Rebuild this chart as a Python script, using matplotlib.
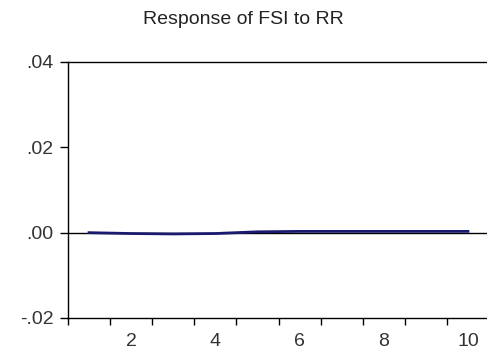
import matplotlib
matplotlib.use("Agg")
import matplotlib.pyplot as plt
from matplotlib.ticker import FixedLocator, FuncFormatter

# -------------------------- data -------------------------------------------
periods = [1, 2, 3, 4, 5, 6, 7, 8, 9, 10]
response = [0.0, -0.0002, -0.0003, -0.0002, 0.0002, 0.0003, 0.0003, 0.0003, 0.0003, 0.0003]
y_ticks = [-0.02, 0.0, 0.02, 0.04]
x_labels = [2, 4, 6, 8, 10]

# -------------------------- plot -------------------------------------------
plt.rcParams['font.family'] = ['Liberation Sans', 'DejaVu Sans']

fig = plt.figure(figsize=(4.87, 3.53), dpi=100)
ax = fig.add_axes([68 / 487, 35 / 353, 421 / 487, 256 / 353])

ax.axhline(0, color='black', lw=1.0, zorder=1)
ax.plot(periods, response, color='#1a1a6e', lw=2.0, zorder=2)

ax.set_xlim(0.5, 10.5)
ax.set_ylim(-0.02, 0.04)

# boundary ticks (no labels) + labels centred on periods
ax.xaxis.set_major_locator(FixedLocator([p - 0.5 for p in periods]))
ax.xaxis.set_major_formatter(FuncFormatter(lambda v, pos: ''))
ax.xaxis.set_minor_locator(FixedLocator(x_labels))
ax.xaxis.set_minor_formatter(FuncFormatter(lambda v, pos: f"{int(v)}"))
ax.tick_params(axis='x', which='major', direction='out', length=5, width=1)
ax.tick_params(axis='x', which='minor', length=0, pad=11, labelsize=14, labelcolor='#333333')

ax.set_yticks(y_ticks)
ax.yaxis.set_major_formatter(FuncFormatter(lambda v, pos: f"{v:.2f}".replace("0.", ".")))
ax.tick_params(axis='y', direction='out', length=5.5, width=1, pad=5, labelsize=14, labelcolor='#333333')

for s in ax.spines.values():
    s.set_linewidth(1.0)

fig.text(0.5, 1 - 20 / 353, "Response of FSI to RR", ha='center', va='center',
         fontsize=14, color='#222222')

fig.savefig("out.png", dpi=100)
